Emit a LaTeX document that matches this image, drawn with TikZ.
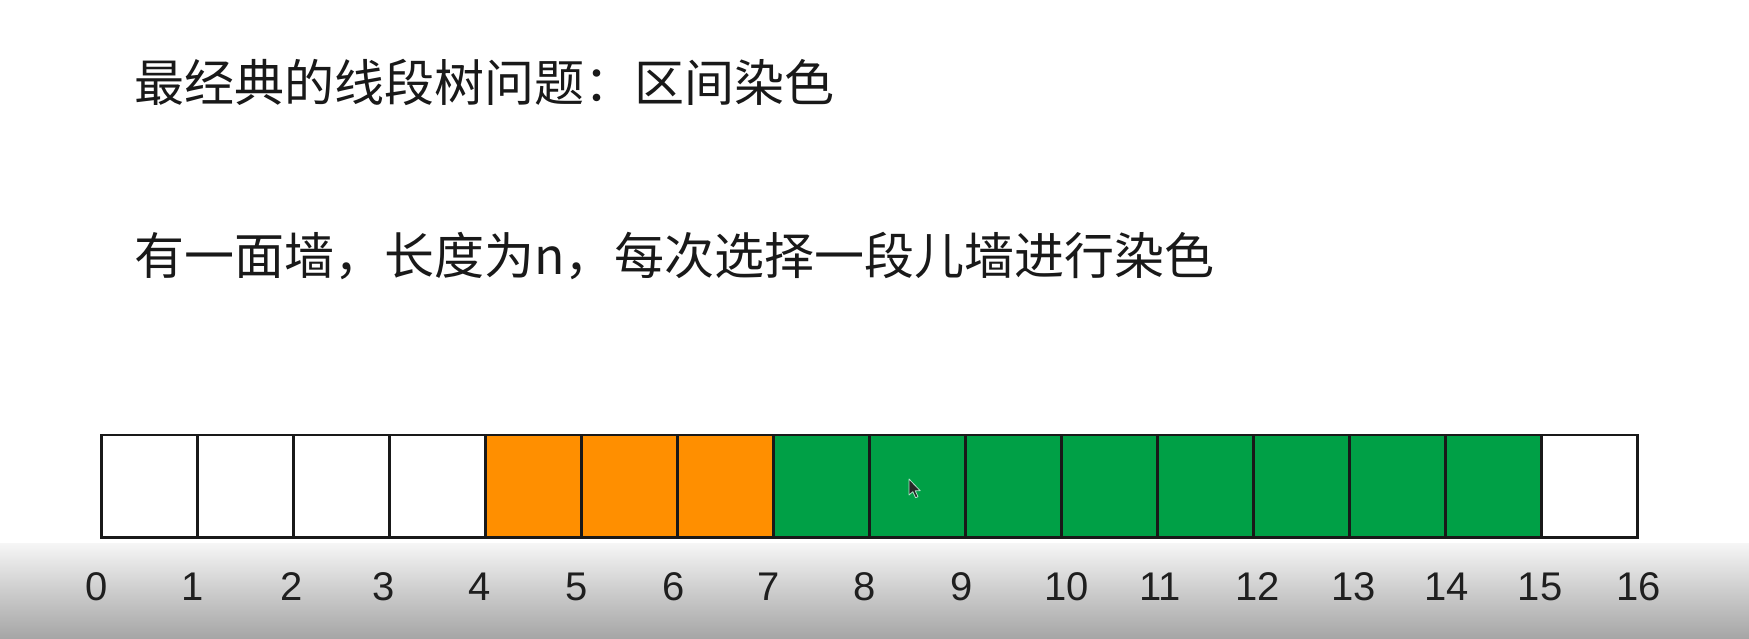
\documentclass[tikz,border=0pt]{standalone}
\usepackage{fontspec}
\newfontfamily\cjk{Noto Sans CJK SC}
\newfontfamily\numfont{Liberation Sans}
\definecolor{paintorange}{RGB}{255,143,0}
\definecolor{paintgreen}{RGB}{0,160,70}
\definecolor{fadetop}{RGB}{246,246,246}
\definecolor{fademid}{RGB}{205,205,205}
\definecolor{fadebot}{RGB}{166,166,166}
\begin{document}
\begin{tikzpicture}[x=1pt,y=-1pt,
  cell/.style={draw=black!90, line width=2.4pt, minimum width=96pt, minimum height=102.6pt, inner sep=0pt, outer sep=0pt},
  numlabel/.style={font=\numfont\fontsize{40}{48}\selectfont, anchor=base, inner sep=0pt, text=black!88},
  title/.style={font=\cjk\fontsize{50}{60}\selectfont, anchor=base west, inner sep=0pt, text=black!90}]
\useasboundingbox (0,0) rectangle (1749,638);
\fill[white] (0,0) rectangle (1749,638);
\shade[top color=fadetop, bottom color=fadebot, middle color=fademid] (0,543) rectangle (1749,638);

\node[title] (t1) at (134,101) {最经典的线段树问题：区间染色};
\node[title] (t2) at (134,274) {有一面墙，长度为n，每次选择一段儿墙进行染色};

\foreach \i in {0,...,15}{
  \pgfmathsetmacro{\cx}{101.3+96*\i+48}
  \ifnum\i<4 \def\cc{white}\else\ifnum\i<7 \def\cc{paintorange}\else\ifnum\i<15 \def\cc{paintgreen}\else\def\cc{white}\fi\fi\fi
  \node[cell, fill=\cc] (c\i) at (\cx,486.3) {};
}
\foreach \i/\lx in {0/96.7,1/193,2/291.7,3/384,4/480,5/576.7,6/673.3,7/768.3,8/865,9/962,
                    10/1066.7,11/1160,12/1257.7,13/1353.3,14/1446.7,15/1540,16/1638.3}{
  \node[numlabel] (n\i) at (\lx,600) {\i};
}
% mouse pointer
\filldraw[fill=black!85, draw=white!70!paintgreen, line width=0.8pt, line join=round]
  (909,479) -- ++(0,16) -- ++(3.8,-3.3) -- ++(2.8,6) -- ++(2.4,-1) -- ++(-2.8,-6) -- ++(5,0) -- cycle;
\end{tikzpicture}
\end{document}
